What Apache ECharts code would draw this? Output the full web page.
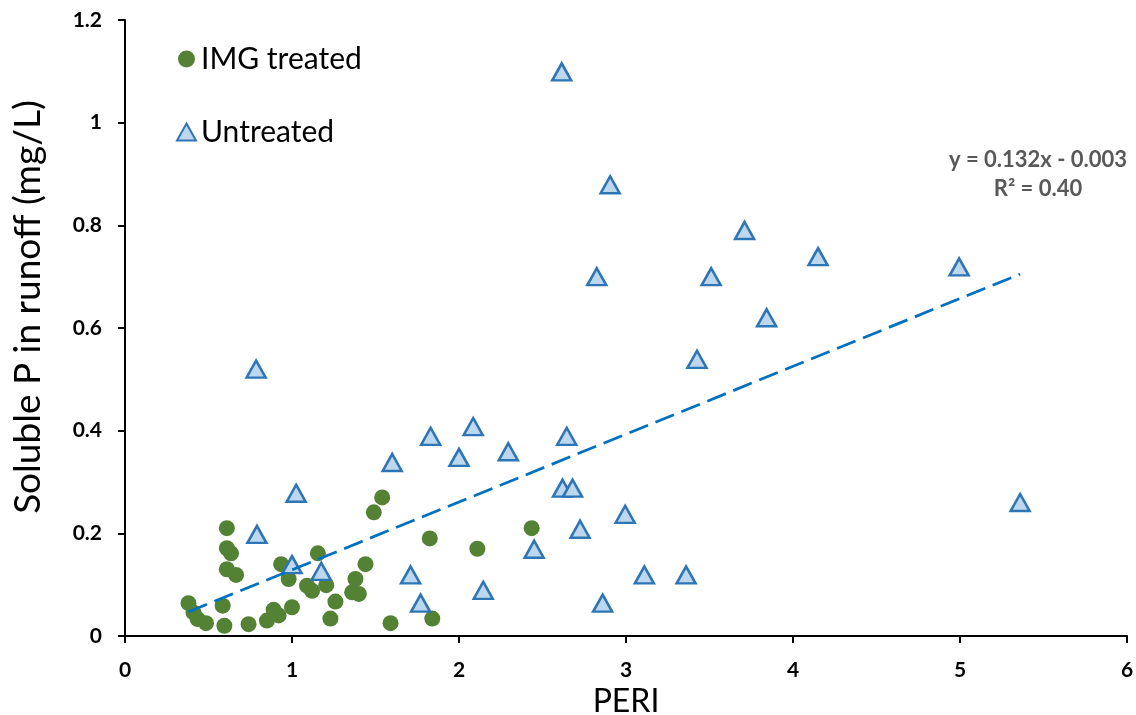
<!DOCTYPE html>
<html>
<head>
<meta charset="utf-8">
<script src="https://cdn.jsdelivr.net/npm/echarts@6/dist/echarts.min.js"></script>
<style>
  html, body { margin: 0; padding: 0; background: #fff; }
  #chart { width: 1136px; height: 715px; }
</style>
</head>
<body>
<div id="chart"></div>
<script>
// IMG treated plots (PERI, soluble P)
const imgX = [0.38, 0.41, 0.435, 0.485, 0.61, 0.61, 0.635, 0.61, 0.665, 0.585, 0.595, 0.74,
  0.85, 0.89, 0.92, 1.0, 0.935, 0.98, 1.09, 1.12, 1.155, 1.205, 1.26, 1.23,
  1.38, 1.36, 1.40, 1.44, 1.49, 1.54, 1.59, 1.825, 1.84, 2.11, 2.435]
const imgY = [0.064, 0.046, 0.033, 0.025, 0.21, 0.171, 0.161, 0.13, 0.119, 0.059, 0.020, 0.023,
  0.030, 0.051, 0.040, 0.056, 0.14, 0.111, 0.098, 0.088, 0.161, 0.099, 0.067, 0.034,
  0.111, 0.085, 0.082, 0.14, 0.241, 0.27, 0.025, 0.19, 0.034, 0.17, 0.21]

// untreated plots
const untX = [0.785, 0.79, 1.025, 1.0, 1.175, 1.60, 1.83, 2.0, 2.085, 1.71, 1.77, 2.295,
  2.645, 2.62, 2.68, 2.995, 2.725, 2.45, 2.145, 2.86, 3.11, 3.36, 2.615, 2.905,
  3.71, 4.15, 2.825, 3.51, 3.842, 3.425, 4.995, 5.36]
const untY = [0.52, 0.198, 0.278, 0.139, 0.126, 0.338, 0.389, 0.348, 0.408, 0.119, 0.064, 0.359,
  0.389, 0.288, 0.288, 0.237, 0.208, 0.169, 0.089, 0.064, 0.119, 0.119, 1.099, 0.879,
  0.79, 0.739, 0.70, 0.70, 0.62, 0.539, 0.719, 0.26]

// linear trendline end points
const trendX = [0.38, 5.36]
const trendY = [0.047, 0.705]

const seriesNames = ['IMG treated', 'Untreated']
const fitText = ['y = 0.132x - 0.003', 'R² = 0.40']

const zip = (xs, ys) => xs.map((x, i) => [x, ys[i]])

const font = 'Lato, "Open Sans", sans-serif'
const chart = echarts.init(document.getElementById('chart'))
chart.setOption({
  animation: false,
  grid: { left: 125, right: 9, top: 20, bottom: 79, outerBoundsMode: 'none', containLabel: false },
  legend: {
    data: seriesNames,
    orient: 'vertical',
    left: 171,
    top: 39,
    itemGap: 43,
    itemWidth: 19,
    itemHeight: 17,
    textStyle: { fontFamily: font, fontSize: 30, color: '#000', lineHeight: 30 }
  },
  xAxis: {
    type: 'value',
    min: 0,
    max: 6,
    interval: 1,
    name: 'PERI',
    nameLocation: 'middle',
    nameGap: 49,
    nameTextStyle: { fontFamily: font, fontSize: 32, color: '#000' },
    axisLine: { show: true, lineStyle: { color: '#000', width: 2 } },
    axisTick: { show: true, length: 7, lineStyle: { color: '#000', width: 2 } },
    axisLabel: { margin: 24, fontFamily: font, fontSize: 21, fontWeight: 'bold', color: '#000' },
    splitLine: { show: false }
  },
  yAxis: {
    type: 'value',
    min: 0,
    max: 1.2,
    interval: 0.2,
    name: 'Soluble P in runoff (mg/L)',
    nameLocation: 'middle',
    nameGap: 78,
    nameTextStyle: { fontFamily: font, fontSize: 37, color: '#000', padding: [0, 0, 0, 42] },
    axisLine: { show: true, lineStyle: { color: '#000', width: 2 } },
    axisTick: { show: true, length: 7, lineStyle: { color: '#000', width: 2 } },
    axisLabel: { margin: 23, fontFamily: font, fontSize: 21, fontWeight: 'bold', color: '#000' },
    splitLine: { show: false }
  },
  graphic: [
    {
      type: 'text',
      x: 1038,
      y: 145,
      style: {
        text: fitText.join('\n'),
        textAlign: 'center',
        lineHeight: 29,
        fill: '#595959',
        font: 'bold 22px ' + font
      }
    }
  ],
  series: [
    {
      name: seriesNames[0],
      type: 'scatter',
      symbol: 'circle',
      symbolSize: 16,
      itemStyle: { color: '#548235', opacity: 1 },
      data: zip(imgX, imgY)
    },
    {
      name: seriesNames[1],
      type: 'scatter',
      symbol: 'triangle',
      symbolSize: [19, 17],
      itemStyle: { color: '#BDD7EE', borderColor: '#2E75B6', borderWidth: 2.5, opacity: 1 },
      data: zip(untX, untY)
    },
    {
      name: 'trend',
      type: 'line',
      symbol: 'none',
      silent: true,
      lineStyle: { color: '#0070C0', width: 2.75, type: [20, 8] },
      data: zip(trendX, trendY)
    }
  ]
})
</script>
</body>
</html>
